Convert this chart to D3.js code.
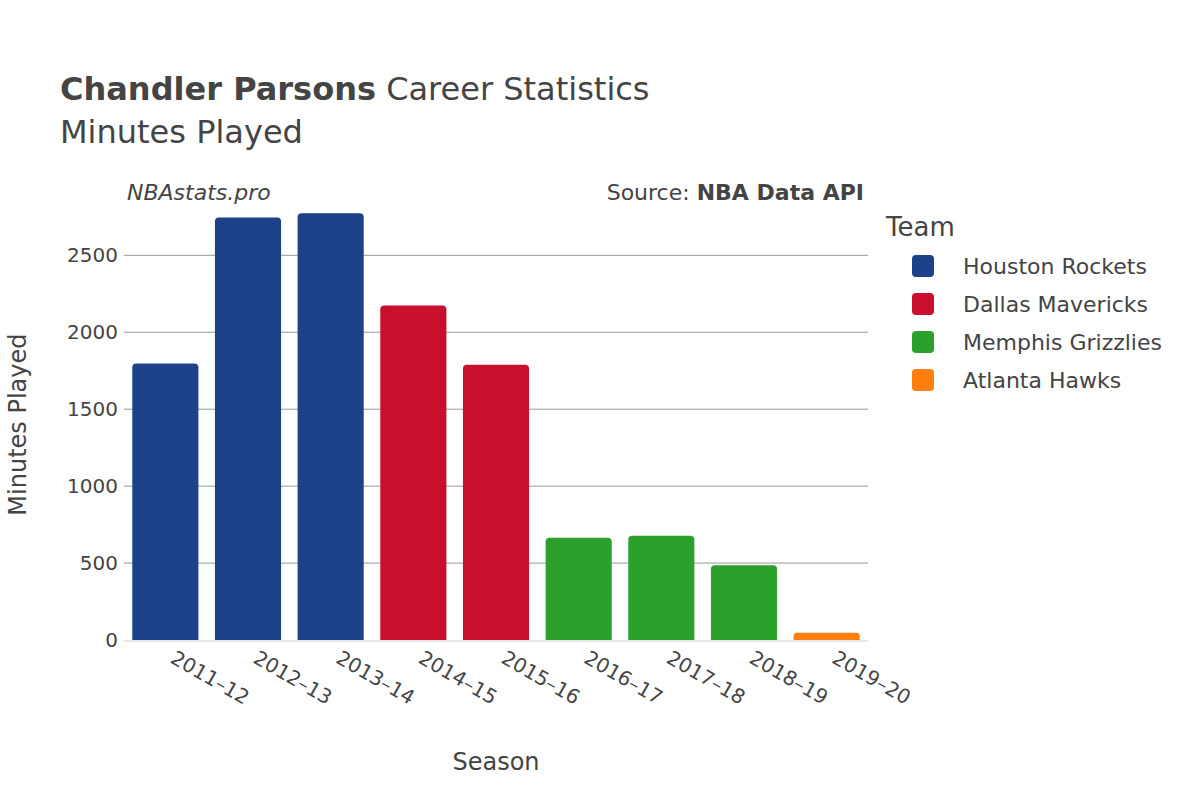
<!DOCTYPE html>
<html><head><meta charset="utf-8">
<script src="https://cdn.jsdelivr.net/npm/d3@7"></script>
<style>body{margin:0;background:#fff;font-family:"DejaVu Sans",sans-serif;}</style>
</head><body><div id="chart"></div>
<script>
const seasons = ["2011–12","2012–13","2013–14","2014–15","2015–16","2016–17","2017–18","2018–19","2019–20"];
const minutes = [1797, 2746, 2773, 2174, 1789, 665, 678, 485, 47];
const teams = ["Houston Rockets","Houston Rockets","Houston Rockets","Dallas Mavericks","Dallas Mavericks","Memphis Grizzlies","Memphis Grizzlies","Memphis Grizzlies","Atlanta Hawks"];
const teamNames = ["Houston Rockets","Dallas Mavericks","Memphis Grizzlies","Atlanta Hawks"];
const teamColors = ["#1d428a","#c8102e","#2ca02c","#ff7f0e"];
const yTicks = [0, 500, 1000, 1500, 2000, 2500];

const W = 1200, H = 800;
const m = {left: 124, right: 332, top: 205, bottom: 160};
const svg = d3.select("#chart").append("svg").attr("width", W).attr("height", H);
const color = d3.scaleOrdinal().domain(teamNames).range(teamColors);

const x = d3.scaleBand().domain(seasons).range([m.left, W - m.right]).paddingInner(0.2).paddingOuter(0.1);
const y = d3.scaleLinear().domain([0, 2827]).range([H - m.bottom, m.top]);

// grid
svg.append("g").selectAll("line").data(yTicks.filter(d => d > 0)).join("line")
  .attr("x1", m.left).attr("x2", W - m.right)
  .attr("y1", d => y(d)).attr("y2", d => y(d))
  .attr("stroke", "#999").attr("stroke-width", 1);
svg.append("line").attr("x1", m.left).attr("x2", W - m.right)
  .attr("y1", y(0) + 1).attr("y2", y(0) + 1).attr("stroke", "#e6e6e6").attr("stroke-width", 2);

// bars with rounded tops
const r = 4;
svg.append("g").selectAll("path").data(seasons).join("path")
  .attr("fill", (d, i) => color(teams[i]))
  .attr("d", (d, i) => {
    const x0 = x(d), w = x.bandwidth(), y0 = y(minutes[i]), yb = y(0);
    const rr = Math.min(r, (yb - y0) / 2);
    return `M${x0},${yb}V${y0 + rr}Q${x0},${y0} ${x0 + rr},${y0}H${x0 + w - rr}Q${x0 + w},${y0} ${x0 + w},${y0 + rr}V${yb}Z`;
  });

// y axis labels
svg.append("g").selectAll("text").data(yTicks).join("text")
  .attr("x", m.left - 6).attr("y", d => y(d)).attr("dy", "0.35em")
  .attr("text-anchor", "end").attr("font-size", 20).attr("fill", "#444").text(d => d);

// x axis labels
svg.append("g").selectAll("text").data(seasons).join("text")
  .attr("transform", d => `translate(${x(d) + x.bandwidth() / 2 + 4},${H - m.bottom + 22}) rotate(30)`)
  .attr("text-anchor", "start").attr("font-size", 20).attr("fill", "#444").text(d => d);

// axis titles
svg.append("text").attr("x", (m.left + W - m.right) / 2).attr("y", 770)
  .attr("text-anchor", "middle").attr("font-size", 24).attr("fill", "#444").text("Season");
svg.append("text").attr("transform", `translate(26,${y(1400)}) rotate(-90)`)
  .attr("text-anchor", "middle").attr("font-size", 24).attr("fill", "#444").text("Minutes Played");

// titles
const t = svg.append("text").attr("x", 60).attr("y", 100).attr("font-size", 32).attr("fill", "#444");
t.append("tspan").attr("font-weight", "bold").text("Chandler Parsons");
t.append("tspan").text(" Career Statistics");
svg.append("text").attr("x", 60).attr("y", 143).attr("font-size", 32).attr("fill", "#444").text("Minutes Played");
svg.append("text").attr("x", 127).attr("y", 200).attr("font-size", 22).attr("font-style", "italic").attr("fill", "#444").text("NBAstats.pro");
const s = svg.append("text").attr("x", 864).attr("y", 200).attr("text-anchor", "end").attr("font-size", 22).attr("fill", "#444");
s.append("tspan").text("Source: ");
s.append("tspan").attr("font-weight", "bold").text("NBA Data API");

// legend
svg.append("text").attr("x", 886).attr("y", 236).attr("font-size", 26).attr("fill", "#444").text("Team");
const lg = svg.append("g").selectAll("g").data(teamNames).join("g")
  .attr("transform", (d, i) => `translate(912,${266 + i * 38})`);
lg.append("rect").attr("x", 0).attr("y", -11).attr("width", 22).attr("height", 22).attr("rx", 4)
  .attr("fill", d => color(d));
lg.append("text").attr("x", 51).attr("dy", "0.35em").attr("font-size", 22).attr("fill", "#444").text(d => d);
</script></body></html>
